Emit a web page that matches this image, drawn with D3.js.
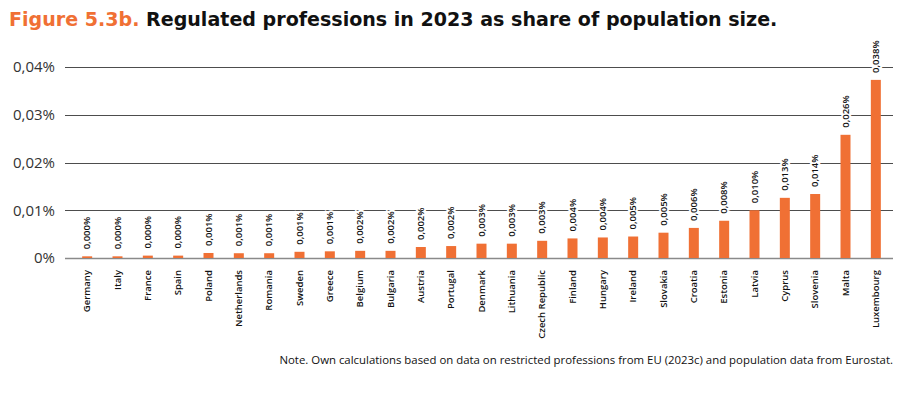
<!DOCTYPE html>
<html>
<head>
<meta charset="utf-8">
<script src="https://cdn.jsdelivr.net/npm/d3@7"></script>
<style>
  body { margin: 0; background: #fff; }
  svg { display: block; font-family: "Open Sans", "DejaVu Sans", sans-serif; }
</style>
</head>
<body>
<div id="chart"></div>
<script>
// data (values in %)
let countries = ["Germany", "Italy", "France", "Spain", "Poland", "Netherlands", "Romania", "Sweden", "Greece",
  "Belgium", "Bulgaria", "Austria", "Portugal", "Denmark", "Lithuania", "Czech Republic", "Finland", "Hungary",
  "Ireland", "Slovakia", "Croatia", "Estonia", "Latvia", "Cyprus", "Slovenia", "Malta", "Luxembourg"];
let shares = [0.00035, 0.00035, 0.0005, 0.0005, 0.00105, 0.001, 0.001, 0.0013, 0.0014,
  0.0015, 0.0015, 0.0023, 0.0025, 0.003, 0.003, 0.0036, 0.0041, 0.0043,
  0.0045, 0.0053, 0.0063, 0.0078, 0.0100, 0.0126, 0.0134, 0.0258, 0.0373];
let shareLabels = ["0,000%", "0,000%", "0,000%", "0,000%", "0,001%", "0,001%", "0,001%", "0,001%", "0,001%",
  "0,002%", "0,002%", "0,002%", "0,002%", "0,003%", "0,003%", "0,003%", "0,004%", "0,004%",
  "0,005%", "0,005%", "0,006%", "0,008%", "0,010%", "0,013%", "0,014%", "0,026%", "0,038%"];
let yTicks = [0, 0.01, 0.02, 0.03, 0.04];
let yTickLabels = ["0%", "0,01%", "0,02%", "0,03%", "0,04%"];

let orange = "#F07034";
let width = 916, height = 394;

let svg = d3.select("#chart").append("svg")
  .attr("width", width)
  .attr("height", height);

// title
let title = svg.append("text")
  .attr("x", 9)
  .attr("y", 26)
  .style("font-family", "'DejaVu Sans', sans-serif")
  .style("font-size", "20px")
  .style("font-weight", 700);
title.append("tspan").attr("fill", orange).text("Figure 5.3b.");
title.append("tspan").attr("fill", "#111").text(" Regulated professions in 2023 as share of population size.");
// stretch to the width seen in the figure
let tw = title.node().getComputedTextLength();
title.style("font-size", (20 * 769 / tw) + "px");

// scales
let x = d3.scaleBand()
  .domain(countries)
  .range([72, 891]);
let y = d3.scaleLinear()
  .domain([0, 0.04])
  .range([258, 67]);

let rows = countries.map((c, i) => ({ name: c, value: shares[i], label: shareLabels[i] }));

// grid
let grid = svg.append("g").attr("class", "grid");
grid.selectAll("line")
  .data(yTicks)
  .enter().append("line")
  .attr("x1", 65)
  .attr("x2", 893)
  .attr("y1", d => Math.round(y(d)) + 0.5)
  .attr("y2", d => Math.round(y(d)) + 0.5)
  .attr("stroke", d => d === 0 ? "#8a8a8a" : "#4d4d4d")
  .attr("stroke-width", d => d === 0 ? 1.6 : 1);

// y axis labels
let yAxis = d3.axisLeft(y)
  .tickValues(yTicks)
  .tickSize(0)
  .tickPadding(0)
  .tickFormat((d, i) => yTickLabels[i]);
let yg = svg.append("g")
  .attr("transform", "translate(55,0)")
  .call(yAxis);
yg.select(".domain").remove();
yg.selectAll("text")
  .attr("fill", "#333")
  .style("font-size", "15px")
  .style("font-family", "'Open Sans', sans-serif");

// bars
let barW = 10;
svg.selectAll(".bar")
  .data(rows)
  .enter().append("rect")
  .attr("class", "bar")
  .attr("x", d => x(d.name) + x.bandwidth() / 2 - barW / 2)
  .attr("y", d => y(d.value))
  .attr("width", barW)
  .attr("height", d => y(0) - y(d.value))
  .attr("fill", orange);

// value labels (white halo breaks the grid lines)
svg.selectAll(".amount")
  .data(rows)
  .enter().append("text")
  .attr("class", "amount")
  .attr("transform", d => "translate(" + (x(d.name) + x.bandwidth() / 2) + "," + (y(d.value) - 7) + ") rotate(-90)")
  .attr("dy", "0.35em")
  .attr("text-anchor", "start")
  .style("font-size", "9.5px")
  .style("font-weight", 600)
  .attr("fill", "#111")
  .attr("stroke", "#fff")
  .attr("stroke-width", 4)
  .attr("paint-order", "stroke")
  .text(d => d.label);

// category labels
let xAxis = d3.axisBottom(x).tickSize(0).tickPadding(0);
let xg = svg.append("g")
  .attr("transform", "translate(0,270)")
  .call(xAxis);
xg.select(".domain").remove();
xg.selectAll("text")
  .attr("transform", "rotate(-90)")
  .attr("x", 0)
  .attr("y", 0)
  .attr("dy", "0.35em")
  .attr("text-anchor", "end")
  .attr("fill", "#111")
  .style("font-size", "9.5px")
  .style("font-weight", 600)
  .style("font-family", "'Open Sans', sans-serif");

// note
svg.append("text")
  .attr("x", 893)
  .attr("y", 364)
  .attr("text-anchor", "end")
  .attr("fill", "#111")
  .style("font-size", "11.4px")
  .text("Note. Own calculations based on data on restricted professions from EU (2023c) and population data from Eurostat.");
</script>
</body>
</html>
